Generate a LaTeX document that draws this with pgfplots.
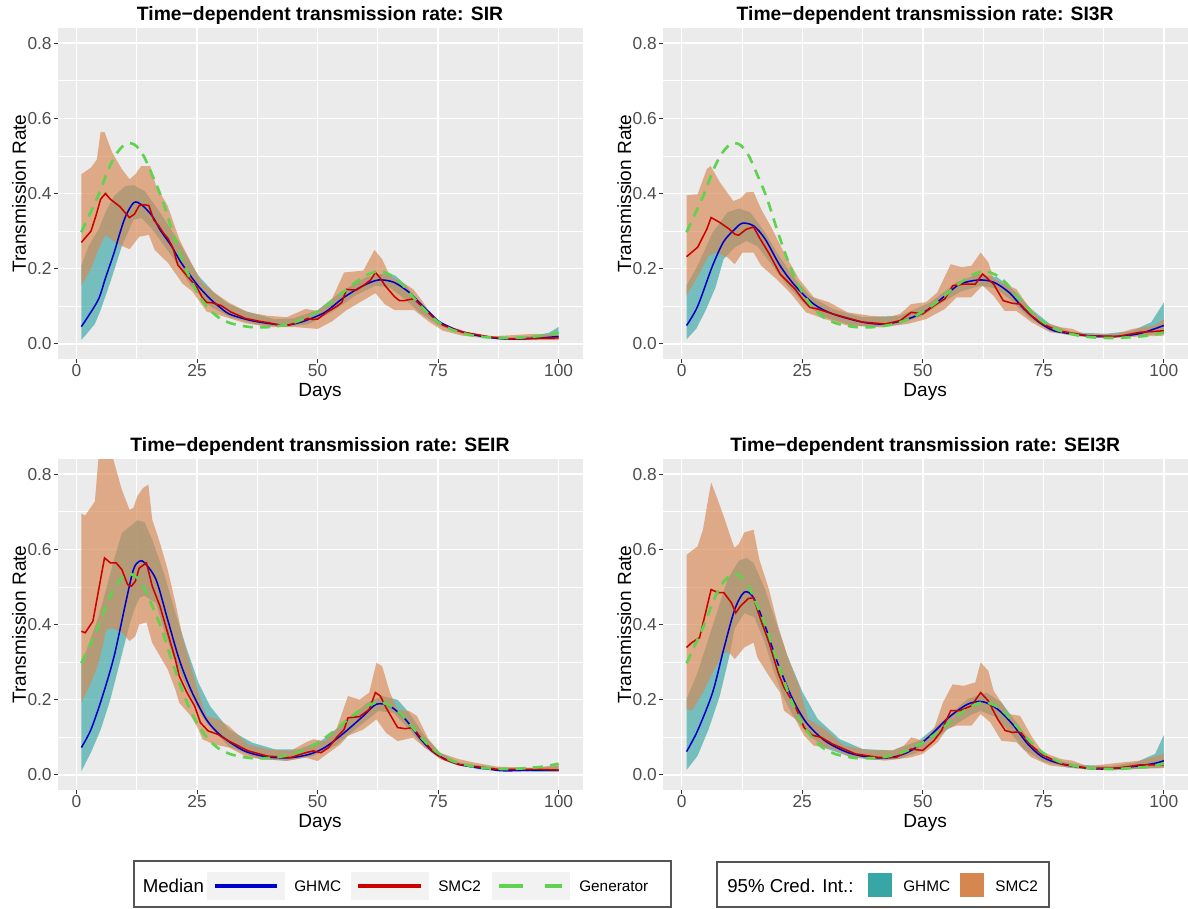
\documentclass[border=0pt]{standalone}
\usepackage{pgfplots}
\pgfplotsset{compat=1.18}
\usepackage{pgfplotstable}
\usepackage{fontspec}
\setmainfont{Liberation Sans}

\definecolor{ggbg}{RGB}{235,235,235}
\definecolor{gray30}{RGB}{77,77,77}
\definecolor{gray20}{RGB}{51,51,51}
\definecolor{cteal}{RGB}{56,166,165}
\definecolor{corange}{RGB}{214,135,80}
\definecolor{cblue}{RGB}{0,0,205}
\definecolor{cred}{RGB}{205,0,0}
\definecolor{cgreen}{RGB}{95,210,80}
\definecolor{keybg}{RGB}{242,242,242}
\definecolor{lborder}{RGB}{85,85,85}

\pgfplotstableread{
d v
1 0.297
2 0.325
3 0.352
4 0.38
5 0.41
6 0.445
7 0.475
8 0.5
9 0.518
10 0.53
11 0.534
12 0.53
13 0.518
14 0.498
15 0.47
16 0.44
17 0.41
18 0.375
19 0.335
20 0.295
21 0.258
22 0.222
23 0.19
24 0.162
25 0.138
26 0.117
27 0.1
28 0.086
29 0.075
30 0.066
32 0.055
34 0.049
36 0.045
38 0.044
40 0.045
42 0.048
44 0.053
46 0.061
48 0.072
50 0.086
52 0.103
54 0.123
56 0.145
58 0.165
60 0.182
62 0.192
63 0.193
64 0.19
66 0.177
68 0.152
70 0.122
72 0.093
74 0.068
76 0.05
78 0.037
80 0.029
82 0.023
84 0.019
86 0.017
88 0.016
90 0.016
92 0.017
94 0.019
96 0.021
98 0.025
100 0.03
}\gen

\pgfplotsset{
  panel/.style={
    width=393.75pt, height=248.25pt, scale only axis,
    xmin=-3.95, xmax=104.95, ymin=-0.04, ymax=0.84,
    axis background/.style={fill=ggbg},
    axis line style={draw=none},
    xtick={0,25,50,75,100}, xticklabels={0,25,50,75,100},
    ytick={0,0.2,0.4,0.6,0.8}, yticklabels={0.0,0.2,0.4,0.6,0.8},
    minor xtick={12.5,37.5,62.5,87.5}, minor ytick={0.1,0.3,0.5,0.7},
    grid=both,
    major grid style={white, line width=1.1pt},
    minor grid style={white, line width=0.55pt},
    tick align=outside, xtick pos=bottom, ytick pos=left,
    major tick length=2.7pt, minor tick length=0pt,
    tick style={color=gray20, line width=0.8pt},
    tick label style={font=\fontsize{13}{15}\selectfont, color=gray30},
    xticklabel style={inner sep=1pt},
    yticklabel style={inner sep=1.5pt},
    xlabel=Days, ylabel=Transmission Rate,
    label style={font=\fontsize{14.3}{16}\selectfont},
    xlabel style={at={(axis description cs:0.5,-0.112)}, anchor=base},
    ylabel style={at={(axis description cs:-0.06,0.5)}, anchor=base},
    title style={font=\fontsize{14.5}{17}\selectfont\bfseries, at={(axis description cs:0.5,0.997)}, anchor=base},
  },
  tealband/.style={draw=none, fill=cteal, fill opacity=0.65},
  orangeband/.style={draw=none, fill=corange, fill opacity=0.65},
  blueline/.style={cblue, line width=1.15pt, mark=none, smooth},
  redline/.style={cred, line width=1.15pt, mark=none},
  genline/.style={cgreen, line width=2pt, mark=none, smooth, dash pattern=on 7.5pt off 5.5pt},
}

\begin{document}
\begin{tikzpicture}
\useasboundingbox (0,0) rectangle (891pt,-681.75pt);

% ---------------- SIR ----------------
\begin{axis}[panel, at={(43.125pt,-21pt)}, anchor=north west,
  title={Time−dependent transmission rate: SIR}]
\addplot[tealband] coordinates {
(1,0.208)(2.5,0.26)(4.6,0.305)(6,0.35)(7.8,0.394)(10.2,0.42)(11.8,0.422)(14.1,0.407)(17.3,0.35)(21.3,0.27)(25.3,0.181)(28.5,0.137)(31,0.11)(34.8,0.088)(41,0.066)(45,0.068)(50,0.09)(55,0.14)(60,0.177)(63,0.186)(66,0.183)(68,0.16)(71,0.115)(74,0.07)(77,0.045)(80,0.033)(85,0.022)(90,0.018)(95,0.022)(98,0.03)(100,0.045)
(100,0.012)(95,0.011)(90,0.012)(85,0.016)(80,0.026)(75,0.05)(71,0.085)(68,0.12)(65,0.15)(62,0.155)(58,0.13)(53,0.085)(48,0.052)(43,0.045)(38,0.05)(32,0.07)(27.7,0.10)(23.7,0.155)(19.7,0.234)(15.7,0.305)(13.5,0.335)(11.8,0.33)(9.4,0.26)(7,0.164)(5,0.09)(3.8,0.053)(2,0.025)(1,0.011)};
\addplot[orangeband] coordinates {
(1,0.451)(2,0.46)(3,0.469)(4.2,0.49)(5,0.564)(5.8,0.563)(7.4,0.509)(9.4,0.465)(11,0.438)(12.2,0.451)(13.4,0.473)(15.3,0.473)(16.5,0.42)(18.9,0.367)(21.3,0.279)(23.7,0.217)(26,0.164)(28.5,0.137)(31.6,0.11)(35.6,0.084)(39.6,0.075)(43.6,0.071)(47.5,0.093)(50,0.088)(53,0.12)(55.5,0.19)(59.5,0.195)(61.8,0.25)(63.4,0.225)(65,0.181)(68.2,0.159)(69.8,0.146)(71.4,0.12)(73.8,0.075)(77,0.044)(79.3,0.04)(81.7,0.027)(85.7,0.02)(95.2,0.027)(100,0.022)
(100,0.01)(90,0.01)(85,0.015)(80,0.022)(76,0.035)(73,0.06)(70,0.09)(66,0.09)(64,0.105)(62,0.135)(60,0.12)(56,0.09)(53,0.06)(50,0.04)(45,0.045)(40,0.045)(35,0.055)(30,0.075)(27,0.086)(24,0.14)(22,0.16)(19,0.215)(16.2,0.25)(15,0.29)(13,0.285)(11,0.252)(8.6,0.265)(6,0.29)(4.5,0.25)(3,0.2)(1,0.155)};
\addplot[blueline] coordinates {
(1,0.046)(2.5,0.075)(4.6,0.12)(6,0.175)(7.8,0.243)(9,0.295)(10.2,0.34)(11.9,0.376)(13.5,0.37)(15.7,0.34)(17.5,0.3)(19.7,0.26)(21.5,0.22)(23.7,0.18)(25.5,0.15)(27.7,0.12)(29.5,0.1)(31.6,0.08)(35,0.066)(38,0.058)(42.8,0.05)(45,0.053)(47.5,0.062)(51.5,0.084)(55.5,0.124)(59.5,0.155)(62.6,0.17)(65.8,0.164)(69,0.137)(71.4,0.106)(73.5,0.08)(75.4,0.058)(79.3,0.035)(83.3,0.022)(88.9,0.013)(95.2,0.015)(100,0.02)};
\addplot[redline] coordinates {
(1,0.27)(2,0.285)(3,0.30)(4,0.34)(5,0.385)(6,0.40)(7,0.385)(8,0.375)(9,0.365)(10,0.35)(11,0.336)(12,0.345)(13,0.368)(14,0.37)(15,0.368)(16,0.33)(17,0.315)(18,0.295)(19,0.28)(20,0.255)(21,0.21)(22,0.195)(23,0.18)(24,0.165)(25,0.15)(26,0.125)(27,0.11)(28,0.11)(30,0.102)(32,0.085)(35,0.068)(38,0.06)(40,0.056)(42,0.05)(44,0.05)(46,0.058)(48,0.068)(49,0.065)(50,0.066)(52,0.085)(54,0.1)(55,0.11)(56,0.145)(58,0.143)(60,0.16)(61,0.17)(62,0.19)(63,0.175)(64,0.155)(65,0.14)(66,0.125)(67,0.115)(68,0.115)(69,0.118)(70,0.12)(72,0.095)(74,0.07)(76,0.05)(78,0.04)(80,0.032)(83,0.025)(86,0.018)(90,0.013)(95,0.015)(100,0.016)};
\addplot[genline] table[x=d,y=v]{\gen};
\end{axis}

% ---------------- SI3R ----------------
\begin{axis}[panel, at={(497pt,-21pt)}, anchor=north west,
  title={Time−dependent transmission rate: SI3R}]
\addplot[tealband] coordinates {
(1,0.155)(3.3,0.208)(6.4,0.296)(9.5,0.35)(11.8,0.36)(14.2,0.35)(17.3,0.296)(20.4,0.23)(23.5,0.173)(26.6,0.128)(31.3,0.093)(37.5,0.071)(45.3,0.075)(51.5,0.11)(57,0.164)(61.6,0.186)(65.5,0.177)(68.6,0.146)(72.5,0.093)(76.4,0.053)(81,0.031)(88,0.027)(93.5,0.035)(97.4,0.058)(100,0.11)
(100,0.028)(95,0.022)(90,0.017)(85,0.017)(80,0.024)(76,0.038)(72,0.07)(68,0.12)(65,0.148)(62,0.155)(58,0.14)(54,0.11)(50,0.075)(45,0.052)(40,0.045)(35,0.05)(30,0.07)(25.8,0.102)(21.9,0.155)(18.8,0.208)(15.7,0.26)(13.4,0.274)(11,0.257)(8.7,0.226)(7,0.15)(5,0.09)(3,0.04)(1,0.012)};
\addplot[orangeband] coordinates {
(1,0.395)(3.3,0.398)(5.2,0.465)(6,0.473)(7.9,0.43)(10.7,0.38)(12.2,0.387)(13.4,0.403)(14.9,0.404)(16.5,0.358)(18.8,0.305)(21.2,0.243)(24.3,0.173)(27.4,0.124)(30.5,0.111)(34.4,0.084)(39,0.075)(43,0.071)(45.3,0.08)(47.6,0.106)(50.7,0.111)(53,0.137)(55.8,0.212)(58.1,0.204)(60.1,0.208)(62,0.243)(63.6,0.217)(64.7,0.173)(67,0.159)(69.4,0.146)(71.8,0.102)(74.9,0.058)(78.8,0.044)(81.1,0.04)(84.2,0.022)(90.4,0.027)(93.5,0.04)(98.2,0.049)(100,0.066)
(100,0.022)(92,0.018)(84.2,0.018)(76.4,0.031)(72.5,0.058)(69.4,0.088)(67,0.088)(64.7,0.128)(62.4,0.155)(60,0.124)(57,0.124)(54.6,0.093)(50.7,0.066)(46.8,0.053)(41.4,0.044)(34.4,0.049)(29.7,0.066)(25.8,0.084)(22.7,0.133)(19.6,0.173)(16.5,0.208)(14.9,0.243)(12.6,0.243)(11,0.212)(9.5,0.23)(7.2,0.243)(5.6,0.234)(3.3,0.18)(1,0.128)};
\addplot[blueline] coordinates {
(1,0.049)(3.3,0.10)(6.4,0.208)(8.7,0.272)(11,0.305)(12.6,0.321)(14.9,0.314)(17.3,0.279)(20.4,0.208)(23.5,0.155)(27.4,0.106)(31.3,0.08)(37.5,0.058)(42.2,0.053)(46.8,0.066)(50.7,0.088)(54.6,0.128)(57.7,0.159)(61.6,0.17)(64.7,0.164)(67.9,0.137)(71,0.093)(74.1,0.058)(77.2,0.035)(81.1,0.027)(85.8,0.02)(90.4,0.02)(95.1,0.028)(100,0.049)};
\addplot[redline] coordinates {
(1,0.232)(3.3,0.257)(5.2,0.305)(6.1,0.336)(7.9,0.323)(9.9,0.305)(11,0.292)(11.8,0.289)(13.4,0.305)(14.9,0.311)(16.1,0.283)(18,0.243)(20.4,0.186)(23.5,0.146)(25,0.12)(26.6,0.097)(28.2,0.093)(31.3,0.08)(37.5,0.058)(42.2,0.053)(45.3,0.062)(47.6,0.084)(50,0.08)(52.3,0.102)(54.6,0.12)(56.2,0.155)(58.5,0.159)(60.9,0.159)(62.4,0.186)(64.7,0.159)(66.7,0.115)(68.6,0.108)(70.2,0.106)(72.5,0.075)(74.9,0.053)(78,0.035)(84.2,0.022)(90.4,0.02)(95.1,0.031)(100,0.035)};
\addplot[genline] table[x=d,y=v]{\gen};
\end{axis}

% ---------------- SEIR ----------------
\begin{axis}[panel, at={(43.125pt,-344.25pt)}, anchor=north west,
  title={Time−dependent transmission rate: SEIR}]
\addplot[tealband] coordinates {
(1,0.294)(4.6,0.422)(7.8,0.573)(9.4,0.643)(12.6,0.677)(14.1,0.672)(15.7,0.626)(18.1,0.537)(20.5,0.431)(22.9,0.334)(25.3,0.245)(27.7,0.183)(31.6,0.121)(36.4,0.086)(41.2,0.068)(45.9,0.068)(50.7,0.09)(55.5,0.139)(60.3,0.192)(63.4,0.21)(66.6,0.2)(69,0.165)(72.2,0.104)(75.4,0.059)(79.3,0.033)(87.3,0.019)(95.2,0.019)(100,0.024)
(100,0.008)(95.2,0.008)(83.3,0.015)(76.2,0.042)(72.2,0.073)(69,0.121)(65.8,0.165)(62.6,0.17)(58.7,0.13)(53.9,0.08)(49,0.05)(43.6,0.038)(38,0.042)(31.6,0.075)(26.9,0.139)(23.7,0.21)(20.5,0.298)(18.1,0.387)(16.5,0.457)(14,0.477)(13,0.47)(12,0.44)(11,0.40)(10,0.35)(9,0.3)(7,0.2)(5,0.12)(3,0.06)(1,0.01)};
\addplot[orangeband] coordinates {
(1,0.695)(1.8,0.69)(3.8,0.727)(4.6,0.85)(5.5,0.9)(7,0.9)(7.6,0.84)(9.4,0.758)(11,0.705)(11.8,0.71)(12.6,0.741)(13.8,0.763)(14.9,0.772)(15.7,0.679)(17.3,0.617)(18.9,0.546)(20.5,0.458)(22.1,0.36)(23.7,0.289)(25.3,0.219)(26.9,0.157)(29.3,0.148)(31.6,0.13)(35.6,0.081)(39.6,0.068)(44.4,0.064)(47.5,0.086)(49.1,0.095)(51.5,0.09)(53.9,0.121)(56.3,0.21)(58.7,0.2)(60.7,0.219)(62.2,0.298)(63.4,0.289)(65,0.219)(66.6,0.174)(69,0.17)(70.6,0.157)(73,0.095)(75.4,0.059)(79.3,0.042)(82.5,0.033)(87.3,0.022)(95.2,0.019)(100,0.028)
(100,0.011)(87.3,0.013)(79.3,0.024)(75.4,0.042)(72.2,0.073)(69.8,0.099)(66.6,0.09)(64.2,0.112)(62.2,0.148)(59.5,0.121)(56.3,0.104)(54.7,0.081)(52.3,0.059)(50,0.037)(47.5,0.046)(43.6,0.037)(35.6,0.046)(31.6,0.073)(28.5,0.081)(26.1,0.095)(25.3,0.121)(23.7,0.157)(21.3,0.192)(20.5,0.227)(18.9,0.281)(17.3,0.316)(15.7,0.351)(14.5,0.406)(13,0.4)(12.2,0.369)(11,0.356)(9.4,0.378)(7.8,0.389)(6.2,0.387)(4.6,0.298)(3,0.245)(1,0.192)};
\addplot[blueline] coordinates {
(1,0.073)(3,0.121)(5.4,0.21)(7.8,0.316)(10.2,0.458)(11.8,0.546)(13,0.568)(14.1,0.564)(16.5,0.519)(18.9,0.413)(21.3,0.307)(23.7,0.227)(26.9,0.148)(30,0.104)(34.8,0.064)(39.6,0.048)(44.4,0.046)(48.3,0.055)(51.5,0.073)(55.5,0.112)(59.5,0.157)(62.2,0.188)(65,0.183)(68.2,0.148)(71.4,0.095)(74.6,0.055)(79.3,0.028)(85.7,0.015)(88.9,0.011)(95.2,0.013)(100,0.013)};
\addplot[redline] coordinates {
(1,0.382)(1.8,0.378)(3.4,0.409)(4.6,0.493)(5.8,0.577)(7,0.564)(8.2,0.564)(9.4,0.546)(10.6,0.506)(11.4,0.502)(12.2,0.515)(13,0.55)(14.5,0.564)(15.7,0.502)(17.3,0.449)(18.9,0.378)(20.5,0.307)(21.3,0.263)(22.9,0.219)(24.5,0.183)(25.7,0.139)(27.3,0.117)(29.3,0.108)(31.6,0.09)(35.6,0.064)(39.6,0.05)(44.4,0.046)(47.5,0.059)(49.1,0.064)(50.7,0.059)(52.3,0.073)(53.9,0.099)(55.5,0.121)(56.3,0.152)(58.7,0.155)(60.7,0.174)(62,0.219)(63,0.21)(64.2,0.179)(66.6,0.126)(68.2,0.123)(69.8,0.126)(71.4,0.099)(73.8,0.064)(76.2,0.042)(79.3,0.028)(87.3,0.015)(95.2,0.015)(100,0.013)};
\addplot[genline] table[x=d,y=v]{\gen};
\end{axis}

% ---------------- SEI3R ----------------
\begin{axis}[panel, at={(497pt,-344.25pt)}, anchor=north west,
  title={Time−dependent transmission rate: SEI3R}]
\addplot[tealband] coordinates {
(1,0.202)(3.3,0.272)(6.4,0.396)(9.5,0.52)(11.8,0.569)(13.4,0.577)(14.9,0.564)(17.3,0.493)(19.6,0.405)(21.9,0.317)(25.1,0.219)(28.2,0.149)(32.8,0.095)(37.5,0.069)(43.7,0.065)(49.2,0.091)(54.6,0.149)(59.3,0.202)(63.2,0.219)(66.3,0.193)(69.4,0.14)(73.3,0.073)(77.2,0.04)(82.6,0.027)(88.8,0.023)(94.3,0.034)(98.2,0.056)(100,0.106)
(100,0.02)(95,0.016)(90,0.013)(85,0.014)(80,0.02)(75,0.035)(71,0.068)(68,0.115)(65,0.155)(62,0.17)(60,0.16)(55,0.12)(50,0.065)(45,0.042)(40,0.04)(35,0.048)(30,0.07)(26,0.11)(23,0.16)(21,0.21)(19,0.28)(17,0.36)(15,0.42)(13,0.43)(11,0.39)(9.9,0.317)(7.9,0.21)(5.6,0.122)(3.3,0.051)(1,0.013)};
\addplot[orangeband] coordinates {
(1,0.585)(3.3,0.608)(4.4,0.652)(6.1,0.778)(7.2,0.741)(8.7,0.688)(10.9,0.604)(11.8,0.613)(13,0.645)(14.9,0.652)(16.1,0.573)(18.1,0.493)(20,0.396)(21.9,0.317)(24.3,0.237)(26.2,0.149)(29.7,0.122)(33.6,0.078)(39.1,0.065)(43.7,0.065)(46.1,0.078)(47.6,0.1)(50,0.091)(52.3,0.122)(54.2,0.193)(56.2,0.241)(58.5,0.237)(60.9,0.246)(62,0.299)(63.6,0.277)(64.7,0.224)(67.9,0.162)(70.2,0.157)(72.5,0.104)(74.9,0.06)(78.8,0.042)(81.1,0.038)(84.2,0.023)(90.4,0.032)(95.1,0.038)(100,0.056)
(100,0.018)(92,0.016)(84.2,0.014)(76.4,0.025)(72.5,0.047)(69.4,0.087)(66.3,0.091)(64,0.14)(62,0.162)(60.1,0.131)(57,0.131)(55,0.122)(53.1,0.087)(50,0.056)(47.6,0.047)(42.2,0.038)(35.2,0.047)(31.3,0.069)(27.4,0.078)(25.4,0.104)(23.5,0.149)(21.2,0.171)(20.4,0.219)(18.1,0.263)(15.7,0.312)(14.9,0.352)(13,0.339)(11,0.308)(9.9,0.325)(8.7,0.325)(6.4,0.272)(4.4,0.219)(2.1,0.171)(1,0.175)};
\addplot[blueline] coordinates {
(1,0.062)(3.3,0.118)(6.4,0.219)(8.7,0.334)(11,0.44)(13,0.486)(14.9,0.471)(17.3,0.396)(19.6,0.308)(22.7,0.21)(25.8,0.14)(29.7,0.091)(34.4,0.06)(39.1,0.047)(43.7,0.047)(47.6,0.065)(51.5,0.104)(55.4,0.153)(59.3,0.188)(62.4,0.195)(65.5,0.175)(68.6,0.135)(71.8,0.082)(74.9,0.047)(78.8,0.029)(84.2,0.018)(88.1,0.016)(93.5,0.022)(98.2,0.031)(100,0.038)};
\addplot[redline] coordinates {
(1,0.339)(2.1,0.352)(3.7,0.365)(5.2,0.445)(6.1,0.493)(7.5,0.485)(8.7,0.485)(10.3,0.458)(11.2,0.431)(12.2,0.449)(13.8,0.469)(14.9,0.471)(16.1,0.423)(18.1,0.352)(20,0.272)(21.2,0.233)(23.5,0.184)(25.4,0.126)(27,0.106)(28.9,0.1)(31.3,0.082)(36,0.056)(40.6,0.047)(44.5,0.047)(47.6,0.069)(50,0.065)(52.3,0.091)(53.9,0.118)(55.8,0.171)(57.7,0.171)(60.1,0.184)(62,0.219)(63.6,0.197)(65.5,0.149)(67.1,0.118)(68.6,0.113)(70.2,0.115)(72.5,0.078)(74.9,0.053)(78.8,0.029)(84.2,0.018)(90.4,0.018)(95.1,0.027)(100,0.027)};
\addplot[genline] table[x=d,y=v]{\gen};
\end{axis}

% ---------------- Legends ----------------
\begin{scope}[x=0.75pt, y=-0.75pt]
\draw[lborder, line width=1.1pt] (134,861) rectangle (671,907);
\node[anchor=west, inner sep=0pt, font=\fontsize{14}{16}\selectfont] at (142.5,886) {Median};
\fill[keybg] (207,872) rectangle (285,900);
\draw[cblue, line width=2.4pt] (215,886) -- (277,886);
\node[anchor=west, inner sep=0pt, font=\fontsize{11.5}{13}\selectfont] at (294,886) {GHMC};
\fill[keybg] (351,872) rectangle (429,900);
\draw[cred, line width=2.4pt] (358,886) -- (421,886);
\node[anchor=west, inner sep=0pt, font=\fontsize{11.5}{13}\selectfont] at (438,886) {SMC2};
\fill[keybg] (492,872) rectangle (570,900);
\draw[cgreen, line width=3pt] (499,886) -- (523,886);
\draw[cgreen, line width=3pt] (545,886) -- (562,886);
\node[anchor=west, inner sep=0pt, font=\fontsize{11.5}{13}\selectfont] at (579,886) {Generator};

\draw[lborder, line width=1.1pt] (717,862) rectangle (1049,907);
\node[anchor=west, inner sep=0pt, font=\fontsize{14}{16}\selectfont] at (727,886) {95\% Cred. Int.:};
\fill[cteal] (868,873) rectangle (892,897);
\node[anchor=west, inner sep=0pt, font=\fontsize{11.5}{13}\selectfont] at (903,886) {GHMC};
\fill[corange] (960,873) rectangle (984,897);
\node[anchor=west, inner sep=0pt, font=\fontsize{11.5}{13}\selectfont] at (995,886) {SMC2};
\end{scope}
\end{tikzpicture}
\end{document}
